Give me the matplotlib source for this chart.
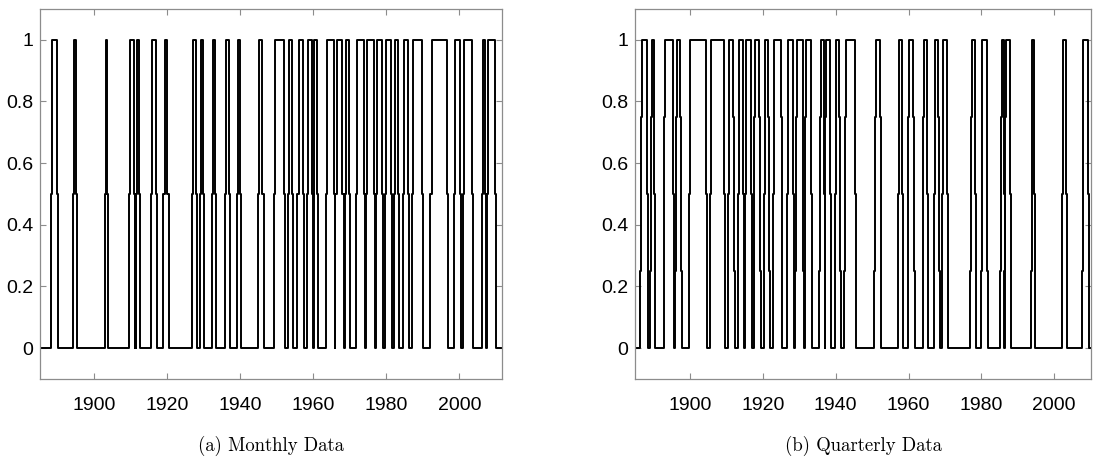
import matplotlib
matplotlib.use("Agg")
import matplotlib.pyplot as plt

# periods where the indicator is on (start year, end year); peak level of each
monthly_start = [1888.5, 1894.6, 1903.3, 1909.8, 1911.1, 1911.8, 1916.0, 1919.3, 1927.1, 1929.2,
                 1932.5, 1936.2, 1939.4, 1945.2, 1949.5, 1953.4, 1956.0, 1958.5, 1960.3, 1963.7,
                 1966.4, 1968.9, 1972.1, 1974.8, 1977.5, 1980.0, 1982.3, 1984.8, 1987.4, 1992.4,
                 1998.9, 2001.2, 2006.6, 2007.8]
monthly_end = [1889.8, 1895.0, 1903.6, 1910.9, 1911.4, 1912.3, 1917.0, 1920.1, 1927.9, 1929.7,
               1933.1, 1936.9, 1939.9, 1946.1, 1952.1, 1954.3, 1957.1, 1959.8, 1961.1, 1965.7,
               1968.0, 1969.8, 1973.9, 1976.6, 1978.9, 1981.2, 1983.2, 1986.0, 1989.8, 1996.7,
               2000.3, 2003.4, 2007.1, 2009.8]
monthly_peak = [1, 1, 1, 1, 0.5, 1, 1, 1, 1, 1,
                1, 1, 1, 1, 1, 1, 1, 1, 1, 1,
                1, 1, 1, 1, 1, 1, 1, 1, 1, 1,
                1, 1, 1, 1]

quarterly_start = [1886.7, 1889.5, 1893.1, 1896.3, 1900.0, 1905.8, 1910.7, 1913.5, 1915.4, 1917.8,
                   1920.6, 1923.1, 1927.0, 1929.3, 1931.8, 1935.9, 1937.3, 1940.1, 1942.7, 1951.0,
                   1957.4, 1960.1, 1964.2, 1967.3, 1969.5, 1977.3, 1980.3, 1985.6, 1986.7, 1994.0,
                   2002.5, 2008.0]
quarterly_end = [1888.1, 1890.1, 1895.3, 1897.3, 1904.4, 1909.3, 1911.9, 1914.5, 1916.7, 1919.0,
                 1921.5, 1925.0, 1928.2, 1930.9, 1933.2, 1936.8, 1938.4, 1941.0, 1945.3, 1952.2,
                 1958.1, 1961.3, 1965.0, 1968.2, 1970.5, 1978.2, 1981.4, 1986.2, 1987.8, 1994.4,
                 2003.2, 2009.2]
quarterly_peak = [1] * len(quarterly_start)

yticks = [0, 0.2, 0.4, 0.6, 0.8, 1]
ytick_labels = ["0", "0.2", "0.4", "0.6", "0.8", "1"]
xticks = [1900, 1920, 1940, 1960, 1980, 2000]


def staircase(starts, ends, peaks, nsteps, dt, x0, x1):
    # change points for a step line that climbs in equal sub-steps
    xs, ys = [x0], [0.0]
    for s, e, h in zip(starts, ends, peaks):
        k = int(round(h * nsteps))
        for i in range(1, k + 1):
            xs.append(s - (k - i) * dt)
            ys.append(i / nsteps)
        for i in range(k - 1, -1, -1):
            xs.append(e + (k - 1 - i) * dt)
            ys.append(i / nsteps)
    xs.append(x1)
    ys.append(0.0)
    return xs, ys


def style_axis(ax, xlim):
    ax.set_xlim(*xlim)
    ax.set_ylim(-0.1, 1.1)
    ax.set_xticks(xticks)
    ax.set_xticklabels([str(t) for t in xticks])
    ax.set_yticks(yticks)
    ax.set_yticklabels(ytick_labels)
    ax.tick_params(direction="in", length=4, width=0.8, color="#8c8c8c",
                   top=True, right=True, labelsize=14)
    ax.tick_params(axis="x", pad=13)
    ax.tick_params(axis="y", pad=5)
    for lab in ax.get_xticklabels() + ax.get_yticklabels():
        lab.set_fontfamily("Liberation Sans")
    for sp in ax.spines.values():
        sp.set_color("#8c8c8c")
        sp.set_linewidth(0.9)


fig = plt.figure(figsize=(10.93, 4.68), dpi=100)
ax1 = fig.add_axes([0.0366, 0.1902, 0.4227, 0.7906])
ax2 = fig.add_axes([0.5810, 0.1902, 0.4172, 0.7906])

xa = (1885.2, 2011.7)
x, y = staircase(monthly_start, monthly_end, monthly_peak, 2, 0.3, xa[0], xa[1])
ax1.step(x, y, where="post", color="black", lw=1.4)
style_axis(ax1, xa)

xb = (1884.9, 2010.1)
x, y = staircase(quarterly_start, quarterly_end, quarterly_peak, 4, 0.12, xb[0], xb[1])
ax2.step(x, y, where="post", color="black", lw=1.4)
style_axis(ax2, xb)

fig.text(0.0366 + 0.4227 / 2, 0.047, "(a) Monthly Data", family="cmr10",
         fontsize=13.5, ha="center", va="center")
fig.text(0.5810 + 0.4172 / 2, 0.047, "(b) Quarterly Data", family="cmr10",
         fontsize=13.5, ha="center", va="center")

fig.savefig("out.png", dpi=100)
